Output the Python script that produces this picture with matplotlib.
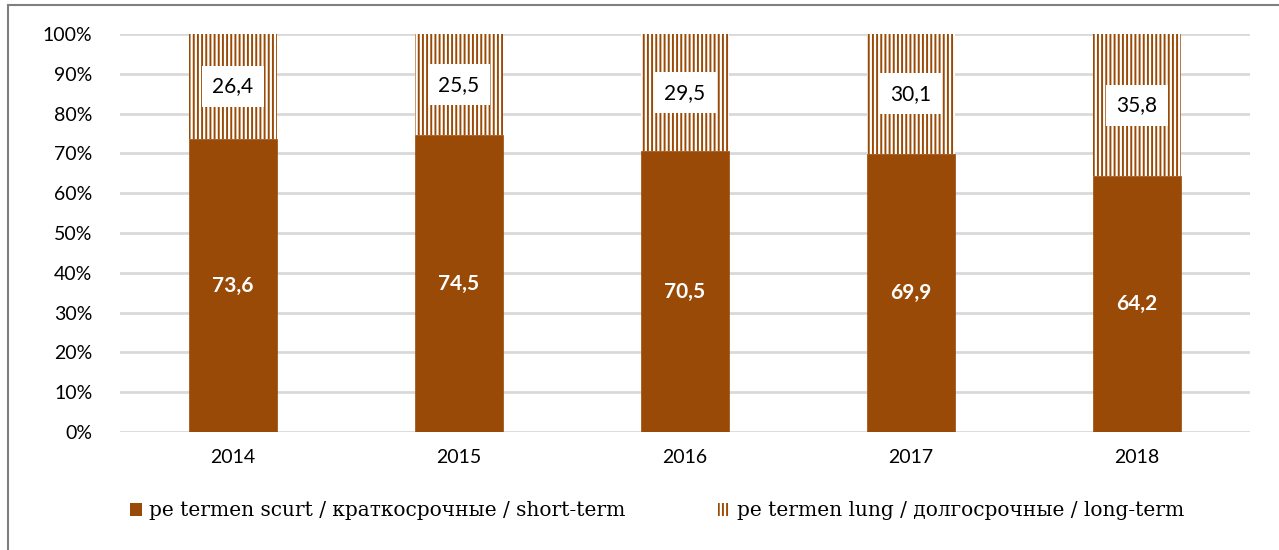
import matplotlib
matplotlib.use("Agg")
import matplotlib.pyplot as plt
from matplotlib.patches import Rectangle, Patch

years = ["2014", "2015", "2016", "2017", "2018"]
short_term = [73.6, 74.5, 70.5, 69.9, 64.2]
long_term = [26.4, 25.5, 29.5, 30.1, 35.8]
short_labels = ["73,6", "74,5", "70,5", "69,9", "64,2"]
long_labels = ["26,4", "25,5", "29,5", "30,1", "35,8"]
legend_labels = ["pe termen scurt / краткосрочные / short-term",
                 "pe termen lung / долгосрочные / long-term"]
yticks = list(range(0, 101, 10))

brown = "#9A4A07"
plt.rcParams['hatch.linewidth'] = 1.4

fig = plt.figure(figsize=(12.79, 5.5), dpi=100)
ax = fig.add_axes([120/1279, 1-432/550, 1130/1279, 398/550])

x = range(len(years))
w = 0.39
ax.bar(x, short_term, width=w, color=brown, edgecolor=brown, linewidth=0.5, zorder=3)
ax.bar(x, long_term, width=w, bottom=short_term, facecolor="white",
       edgecolor=brown, hatch="||||", linewidth=0, zorder=3)

for i in x:
    ax.text(i, short_term[i]/2, short_labels[i], ha="center", va="center",
            color="white", fontsize=15, fontweight="bold", family="Lato", zorder=5)
    ax.text(i, short_term[i] + long_term[i]/2, long_labels[i], ha="center", va="center",
            color="black", fontsize=15, family="Lato", zorder=5,
            bbox=dict(boxstyle="square,pad=0.5", facecolor="white", edgecolor="none"))

ax.set_xlim(-0.5, len(years) - 0.5)
ax.set_ylim(0, 100)
ax.set_yticks(yticks)
ax.set_yticklabels([f"{t}%" for t in yticks], family="Lato", fontsize=14)
ax.set_xticks(list(x))
ax.set_xticklabels(years, family="Lato", fontsize=14)
ax.tick_params(length=0)
ax.tick_params(axis="y", pad=20)
ax.tick_params(axis="x", pad=12)
ax.grid(axis="y", color="#D9D9D9", linewidth=2, zorder=0)
for s in ax.spines.values():
    s.set_visible(False)

handles = [Patch(facecolor=brown, edgecolor=brown, linewidth=0),
           Patch(facecolor="white", edgecolor=brown, hatch="||||", linewidth=0)]
leg = fig.legend(handles, legend_labels, loc="center", bbox_to_anchor=(657/1279, 1-511/550),
                 ncol=2, frameon=False, handlelength=0.6, handleheight=0.6,
                 handletextpad=0.35, columnspacing=4.6,
                 prop=dict(family="DejaVu Serif", size=14.5))

# outer frame of the chart
fig.patches.append(Rectangle((8/1279, -0.1), 1.2, 1-5/550 + 0.1, transform=fig.transFigure,
                             facecolor="none", edgecolor="#7F7F7F", linewidth=1.5))

fig.savefig("out.png", dpi=100)
